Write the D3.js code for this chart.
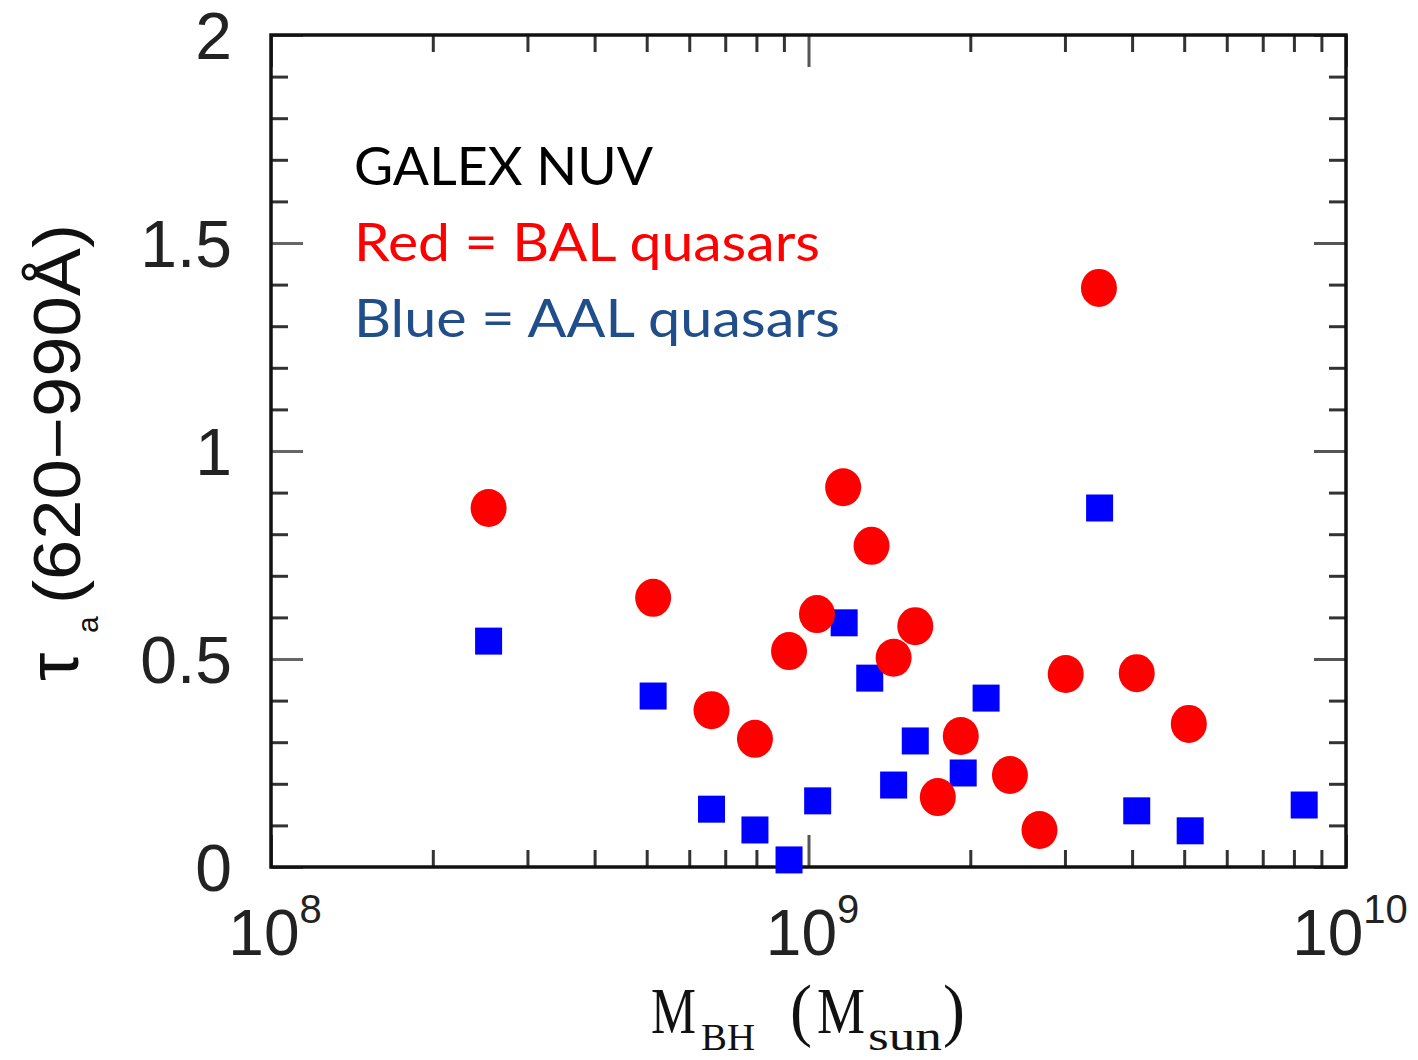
<!DOCTYPE html>
<html>
<head>
<meta charset="utf-8">
<script src="https://cdn.jsdelivr.net/npm/d3@7"></script>
<style>
  body { margin: 0; background: #fff; }
  svg { display: block; }
</style>
</head>
<body>
<svg id="chart" width="1418" height="1060"></svg>
<script>
// BAL quasars (red circles)
const balMass = [2.54e8, 5.14e8, 6.6e8, 7.95e8, 9.2e8, 1.037e9, 1.16e9, 1.31e9, 1.44e9, 1.58e9,
                 1.74e9, 1.92e9, 2.37e9, 2.69e9, 3.01e9, 3.47e9, 4.08e9, 5.10e9];
const balTau = [0.863, 0.647, 0.377, 0.308, 0.519, 0.608, 0.913, 0.772, 0.503, 0.579,
                0.168, 0.315, 0.221, 0.089, 0.464, 1.392, 0.466, 0.344];

// AAL quasars (blue squares)
const aalMass = [2.54e8, 5.14e8, 6.6e8, 7.95e8, 9.2e8, 1.04e9, 1.165e9, 1.30e9, 1.44e9, 1.58e9,
                 1.94e9, 2.14e9, 3.48e9, 4.08e9, 5.13e9, 8.36e9];
const aalTau = [0.543, 0.411, 0.139, 0.089, 0.017, 0.159, 0.587, 0.454, 0.197, 0.303,
                0.226, 0.406, 0.863, 0.135, 0.087, 0.149];

const yMajor = [0, 0.5, 1, 1.5, 2];
const yMinor = [0.1, 0.2, 0.3, 0.4, 0.6, 0.7, 0.8, 0.9, 1.1, 1.2, 1.3, 1.4, 1.6, 1.7, 1.8, 1.9];
const xMajor = [1e8, 1e9, 1e10];
const xExp = ["8", "9", "10"];
const xMinor = [2e8, 3e8, 4e8, 5e8, 6e8, 7e8, 8e8, 9e8, 2e9, 3e9, 4e9, 5e9, 6e9, 7e9, 8e9, 9e9];

const legendLines = ["GALEX NUV", "Red = BAL quasars", "Blue = AAL quasars"];
const legendColors = ["#000000", "#ff0000", "#1f4e8a"];

const plotLeft = 271, plotRight = 1346, plotTop = 35, plotBottom = 867;
const svg = d3.select('#chart');

let x = d3.scaleLog().domain([1e8, 1e10]).range([plotLeft, plotRight]);
let y = d3.scaleLinear().domain([0, 2]).range([plotBottom, plotTop]);

const tickFont = "'Liberation Sans', Arial, sans-serif";
const serif = "'Liberation Serif', 'Times New Roman', serif";

function tickStyle(g, color) {
  g.select('.domain').remove();
  g.selectAll('.tick line').attr('stroke', color).attr('stroke-width', 3);
}

// left axis: minor + major (inward)
svg.append('g').attr('transform', `translate(${plotLeft},0)`)
  .call(d3.axisLeft(y).tickValues(yMinor).tickSize(-17).tickFormat(''))
  .call(g => tickStyle(g, '#333'));
svg.append('g').attr('transform', `translate(${plotLeft},0)`)
  .call(d3.axisLeft(y).tickValues(yMajor).tickSize(-32).tickPadding(39).tickFormat(d3.format('')))
  .call(g => tickStyle(g, '#666'))
  .call(g => g.selectAll('text')
    .attr('font-family', tickFont).attr('font-size', 66).attr('fill', '#222').attr('dy', '0.36em'));

// right axis
svg.append('g').attr('transform', `translate(${plotRight},0)`)
  .call(d3.axisRight(y).tickValues(yMinor).tickSize(-17).tickFormat(''))
  .call(g => tickStyle(g, '#333'));
svg.append('g').attr('transform', `translate(${plotRight},0)`)
  .call(d3.axisRight(y).tickValues(yMajor).tickSize(-32).tickFormat(''))
  .call(g => tickStyle(g, '#555'));

// bottom and top axes
svg.append('g').attr('transform', `translate(0,${plotBottom})`)
  .call(d3.axisBottom(x).tickValues(xMinor).tickSize(-17).tickFormat(''))
  .call(g => tickStyle(g, '#333'));
svg.append('g').attr('transform', `translate(0,${plotBottom})`)
  .call(d3.axisBottom(x).tickValues(xMajor).tickSize(-32).tickFormat(''))
  .call(g => tickStyle(g, '#555'));
svg.append('g').attr('transform', `translate(0,${plotTop})`)
  .call(d3.axisTop(x).tickValues(xMinor).tickSize(-17).tickFormat(''))
  .call(g => tickStyle(g, '#333'));
svg.append('g').attr('transform', `translate(0,${plotTop})`)
  .call(d3.axisTop(x).tickValues(xMajor).tickSize(-32).tickFormat(''))
  .call(g => tickStyle(g, '#555'));

// x tick labels 10^n
xMajor.forEach((v, i) => {
  let t = svg.append('text')
    .attr('x', x(v) + 4).attr('y', 955)
    .attr('text-anchor', 'middle')
    .attr('font-family', tickFont).attr('font-size', 64).attr('fill', '#222');
  t.append('tspan').text('10');
  t.append('tspan').attr('dy', -32).attr('font-size', 40).text(xExp[i]);
});

// frame
svg.append('rect')
  .attr('x', plotLeft).attr('y', plotTop)
  .attr('width', plotRight - plotLeft).attr('height', plotBottom - plotTop)
  .attr('fill', 'none').attr('stroke', '#111').attr('stroke-width', 3.5);

// data points
svg.append('g').selectAll('rect')
  .data(aalMass.map((m, i) => ({m: m, t: aalTau[i]})))
  .enter()
  .append('rect')
    .attr('x', d => x(d.m) - 13.5)
    .attr('y', d => y(d.t) - 13.5)
    .attr('width', 27).attr('height', 27)
    .attr('fill', '#0000ff');

svg.append('g').selectAll('ellipse')
  .data(balMass.map((m, i) => ({m: m, t: balTau[i]})))
  .enter()
  .append('ellipse')
    .attr('cx', d => x(d.m))
    .attr('cy', d => y(d.t))
    .attr('rx', 18).attr('ry', 19)
    .attr('fill', '#ff0000');

// legend text
const legendWidths = [299, 466, 486];
legendLines.forEach((s, i) => {
  svg.append('text')
    .attr('x', 354).attr('y', 185 + i * 76)
    .attr('font-family', "Lato, 'Open Sans', sans-serif")
    .attr('font-size', 52)
    .attr('fill', legendColors[i])
    .attr('textLength', legendWidths[i])
    .attr('lengthAdjust', 'spacingAndGlyphs')
    .text(s);
});

// x axis title: M_BH (M_sun)
let xt = svg.append('text').attr('font-family', serif).attr('fill', '#111')
  .attr('x', 651).attr('y', 1033).attr('font-size', 66);
xt.append('tspan').attr('x', 651).attr('y', 1033)
  .attr('textLength', 45).attr('lengthAdjust', 'spacingAndGlyphs').text('M');
xt.append('tspan').attr('x', 701).attr('y', 1050).attr('font-size', 38)
  .attr('textLength', 54).attr('lengthAdjust', 'spacingAndGlyphs').text('BH');
xt.append('tspan').attr('x', 790).attr('y', 1033).attr('font-size', 70)
  .attr('textLength', 22).attr('lengthAdjust', 'spacingAndGlyphs').text('(');
xt.append('tspan').attr('x', 817).attr('y', 1033)
  .attr('textLength', 48).attr('lengthAdjust', 'spacingAndGlyphs').text('M');
xt.append('tspan').attr('x', 868).attr('y', 1050).attr('font-size', 40)
  .attr('textLength', 74).attr('lengthAdjust', 'spacingAndGlyphs').text('sun');
xt.append('tspan').attr('x', 943).attr('y', 1033).attr('font-size', 70)
  .attr('textLength', 22).attr('lengthAdjust', 'spacingAndGlyphs').text(')');

// y axis title: tau_a (620-990 A)
let yt = svg.append('text').attr('transform', 'translate(80,0) rotate(-90)')
  .attr('font-family', tickFont).attr('fill', '#111').attr('font-size', 66);
yt.append('tspan').attr('x', -681).attr('y', -2).attr('font-size', 72).text('τ');
yt.append('tspan').attr('x', -633).attr('y', 18).attr('font-size', 30).text('a');
yt.append('tspan').attr('x', -604).attr('y', 0)
  .attr('textLength', 380).attr('lengthAdjust', 'spacingAndGlyphs').text('(620−990Å)');
</script>
</body>
</html>
